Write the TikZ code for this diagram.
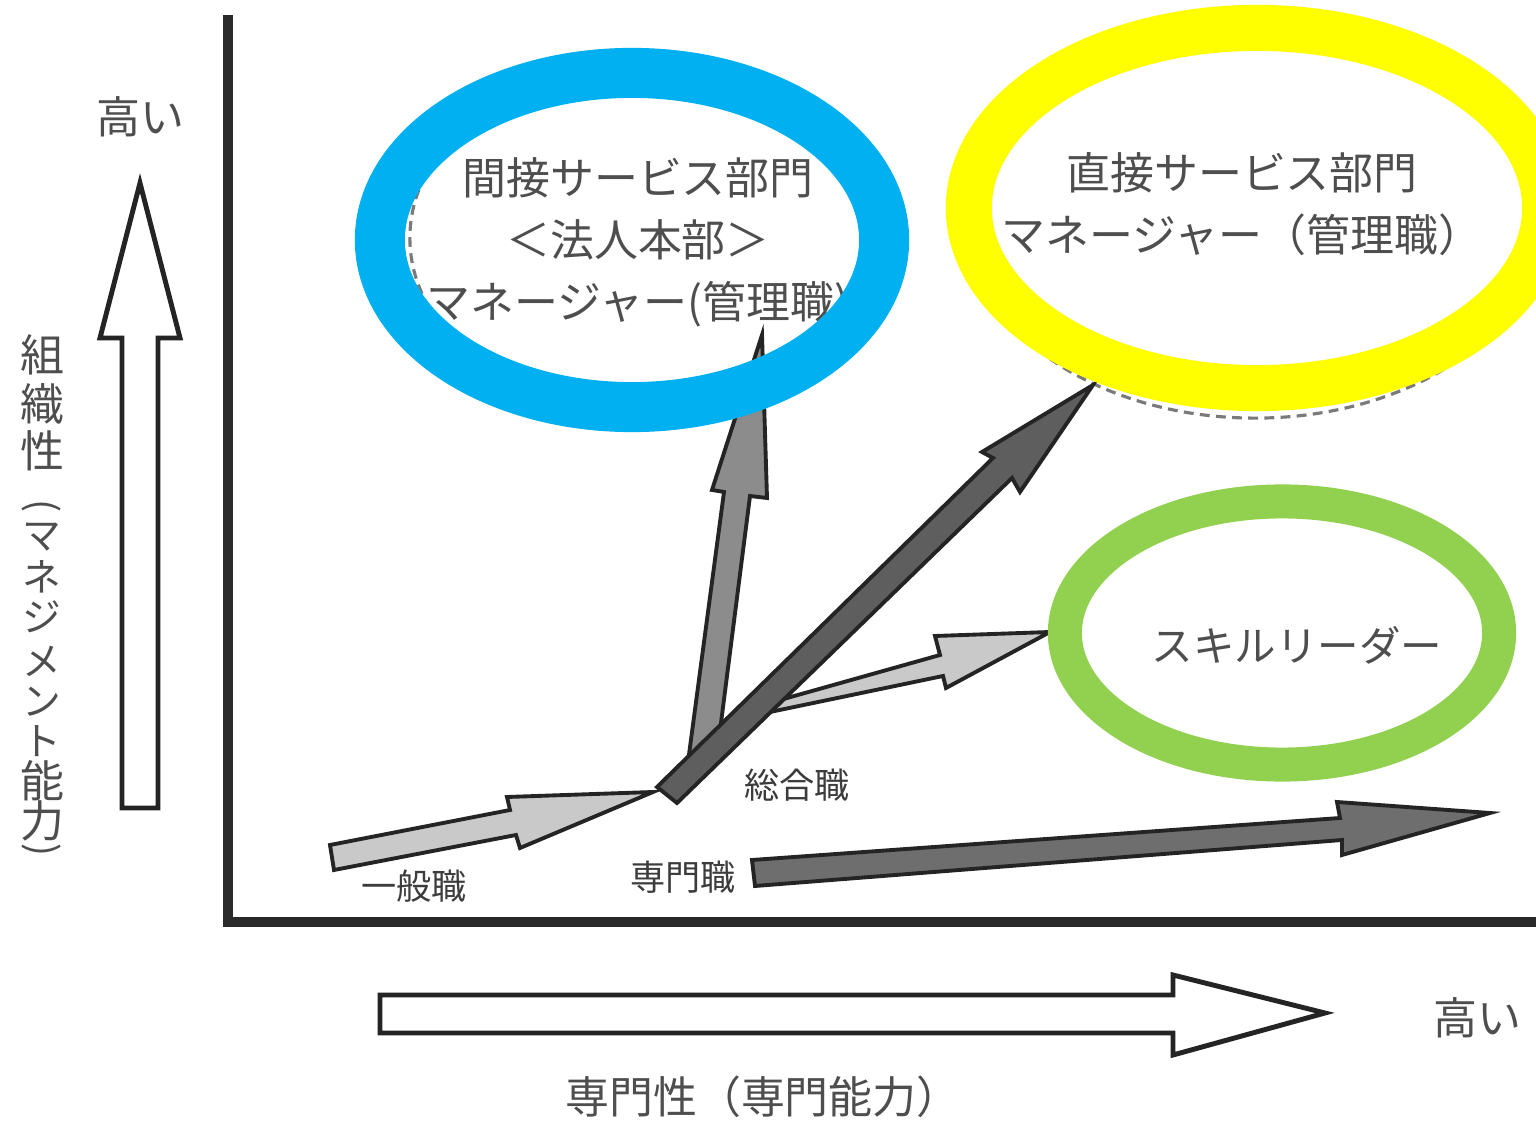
\documentclass[tikz,border=0pt]{standalone}
\usepackage{fontspec}
\setmainfont{Noto Sans CJK JP}
\definecolor{txtgray}{HTML}{4E4E4E}
\definecolor{lbldark}{HTML}{3C3C3C}
\definecolor{axisgray}{HTML}{2A2A2A}
\definecolor{outl}{HTML}{242424}
\definecolor{lightfill}{HTML}{C9C9C9}
\definecolor{midfill}{HTML}{8C8C8C}
\definecolor{darkfill}{HTML}{5E5E5E}
\definecolor{darkfillb}{HTML}{6E6E6E}
\definecolor{ringblue}{HTML}{00B0F0}
\definecolor{ringyellow}{HTML}{FFFF00}
\definecolor{ringgreen}{HTML}{92D050}
\definecolor{dashgray}{HTML}{7A7A7A}
\begin{document}
\begin{tikzpicture}[x=0.01cm,y=-0.01cm,
  txt/.style={text=txtgray, inner sep=0pt, font=\fontsize{12.5}{17.6}\selectfont, align=center},
  vkana/.style={text=txtgray, inner sep=0pt, font=\fontsize{11}{13}\selectfont},
  smalllbl/.style={text=lbldark, inner sep=0pt, font=\fontsize{10}{12}\selectfont},
  axisline/.style={line width=2.9pt, draw=axisgray},
  whitearrow/.style={draw=outl, fill=white, line width=1.4pt, line join=miter},
  grayarrow/.style={draw=outl, line width=1.1pt, line join=miter},
  dashring/.style={draw=dashgray, line width=0.9pt, dash pattern=on 2.8pt off 1.8pt},
]
\useasboundingbox[fill=white] (0,0) rectangle (1536,1125);

% axes
\coordinate (ytop) at (228,20);
\coordinate (origin) at (228,922);
\coordinate (xend) at (1536,922);
\draw[axisline, line cap=rect] (ytop) -- (origin) -- (xend);

% outline arrows along the axes
\draw[whitearrow] (122,808) -- (122,338) -- (100,338) -- (140,183) -- (180,338) -- (158,338) -- (158,808) -- cycle;
\draw[whitearrow] (380,995) -- (1173,995) -- (1173,975) -- (1325,1013) -- (1173,1055) -- (1173,1033) -- (380,1033) -- cycle;

% axis labels
\node[txt] (yhigh) at (140,117) {高い};
\node[txt] (xhigh) at (1477,1018) {高い};
\node[txt] (xlab) at (763,1097) {専門性（専門能力）};
% vertical label
\node[txt] (v1) at (42,355) {組};
\node[txt] (v2) at (42,404) {織};
\node[txt] (v3) at (42,451) {性};
\node[vkana] (v4) at (42,509) {\rotatebox[origin=c]{-90}{(}};
\node[vkana] (v5) at (42,537) {マ};
\node[vkana] (v6) at (42,577) {ネ};
\node[vkana] (v7) at (42,617) {ジ};
\node[vkana] (v8) at (42,661) {メ};
\node[vkana] (v9) at (42,702) {ン};
\node[vkana] (v10) at (42,741) {ト};
\node[txt] (v11) at (42,781) {能};
\node[txt] (v12) at (42,821) {力};
\node[vkana] (v13) at (42,853) {\rotatebox[origin=c]{-90}{)}};

% texts inside ellipses
\node[txt] (indirect) at (638,242) {間接サービス部門\\＜法人本部＞\\マネージャー(管理職)};
\node[txt] (direct) at (1242,204) {直接サービス部門\\マネージャー（管理職）};
\node[txt, font=\fontsize{11.8}{14}\selectfont] (skill) at (1297,645) {スキルリーダー};

% job labels
\node[smalllbl] (general) at (414,886) {一般職};
\node[smalllbl] (special) at (683,877) {専門職};
\node[smalllbl] (sogo) at (797,785) {総合職};

% original dashed outlines
\draw[dashring] (645,238) ellipse [x radius=2.35cm, y radius=1.75cm];
\draw[dashring] (1255,215) ellipse [x radius=2.9cm, y radius=2.03cm];

% career arrows
\draw[grayarrow, fill=midfill] (688,762) -- (724,492) -- (712,490) -- (762,335) -- (767,498) -- (750,496) -- (716,762) -- cycle;
\draw[grayarrow, fill=lightfill] (780,700) -- (940,655) -- (935,636) -- (1050,632) -- (946,688) -- (943,676) -- (770,712) -- cycle;
\draw[grayarrow, fill=darkfill] (657,787) -- (993,458) -- (982,452) -- (1093,385) -- (1020,492) -- (1012,478) -- (677,803) -- cycle;
\draw[grayarrow, fill=lightfill] (330,845) -- (510,810) -- (507,797) -- (653,792) -- (520,848) -- (516,835) -- (334,870) -- cycle;
\draw[grayarrow, fill=darkfillb] (752,860) -- (1340,818) -- (1337,802) -- (1490,813) -- (1342,855) -- (1342,840) -- (755,886) -- cycle;

% coloured rings
\draw[ringblue, line width=0.5cm] (632,240) ellipse [x radius=2.52cm, y radius=1.67cm];
\draw[ringyellow, line width=0.46cm] (1257,208) ellipse [x radius=2.88cm, y radius=1.80cm];
\draw[ringgreen, line width=0.34cm] (1282,633) ellipse [x radius=2.17cm, y radius=1.315cm];
\end{tikzpicture}
\end{document}
